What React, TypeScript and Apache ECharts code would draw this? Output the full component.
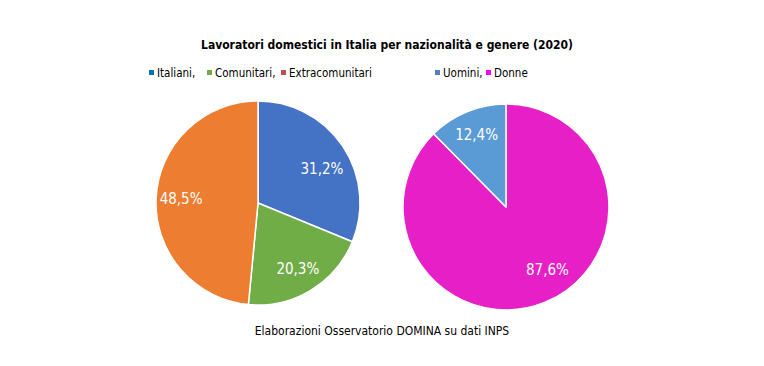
import React, { useEffect, useRef } from "react";
import * as echarts from "echarts";

const titleText = "Lavoratori domestici in Italia per nazionalità e genere (2020)";
const sourceText = "Elaborazioni Osservatorio DOMINA su dati INPS";

const nationalityNames = ["Italiani", "Comunitari", "Extracomunitari"];
const nationalityValues = [31.2, 20.3, 48.5];
const nationalitySliceColors = ["#4472C4", "#70AD47", "#ED7D31"];
const nationalityLegendColors = ["#0070C0", "#70AD47", "#C0504D"];

const genderNames = ["Donne", "Uomini"];
const genderValues = [87.6, 12.4];
const genderSliceColors = ["#E620C6", "#5B9BD5"];
const genderLegendOrder = ["Uomini", "Donne"];
const genderLegendColors = ["#4F81BD", "#FF00FF"];

const FONT = "DejaVu Sans Condensed";

export default function App() {
  const ref = useRef<HTMLDivElement>(null);
  useEffect(() => {
    document.body.style.margin = "0";
    if (!ref.current) return;
    const chart = echarts.init(ref.current, null, { renderer: "svg" });
    const pct = (v: number) => v.toFixed(1).replace(".", ",") + "%";
    // label nudges: "down" / "up" move the text half a line, to mimic the reference placement
    const natShift = ["down", "", ""];
    const genShift = ["up", ""];
    const makeFmt = (shift: string[]) => (p: any) => {
      const t = pct(p.value);
      const s = shift[p.dataIndex];
      if (s === "down") return "\n" + t;
      if (s === "up") return t + "\n";
      return t;
    };
    const natData = nationalityNames.map((n, i) => ({
      name: n,
      value: nationalityValues[i],
      itemStyle: { color: nationalitySliceColors[i] },
    }));
    const genData = genderNames.map((n, i) => ({
      name: n,
      value: genderValues[i],
      itemStyle: { color: genderSliceColors[i] },
    }));
    const labelBase = {
      show: true,
      position: "inside",
      color: "#ffffff",
      fontFamily: FONT,
      fontSize: 15,
      lineHeight: 18,
    };
    const genPad = [[0, 0, 0, 24], [0, 0, 0, 0]];

    const legendItems: any[] = [];
    const natX = [149, 207, 281];
    nationalityNames.forEach((n, i) => {
      const label = i === nationalityNames.length - 1 ? n : n + ",";
      legendItems.push({
        type: "rect",
        shape: { x: natX[i], y: 70, width: 5, height: 5 },
        style: { fill: nationalityLegendColors[i] },
        silent: true,
      });
      legendItems.push({
        type: "text",
        x: natX[i] + 8,
        y: 72.5,
        style: { text: label, fontFamily: FONT, fontSize: 11.5, fill: "#000", verticalAlign: "middle" },
        silent: true,
      });
    });
    const genX = [435, 486];
    genderLegendOrder.forEach((n, i) => {
      const label = i === genderLegendOrder.length - 1 ? n : n + ",";
      legendItems.push({
        type: "rect",
        shape: { x: genX[i], y: 70, width: 5, height: 5 },
        style: { fill: genderLegendColors[i] },
        silent: true,
      });
      legendItems.push({
        type: "text",
        x: genX[i] + 8,
        y: 72.5,
        style: { text: label, fontFamily: FONT, fontSize: 11.5, fill: "#000", verticalAlign: "middle" },
        silent: true,
      });
    });

    chart.setOption({
      animation: false,
      backgroundColor: "#ffffff",
      title: {
        text: titleText,
        left: 382,
        top: 34,
        textAlign: "center",
        textStyle: { fontFamily: FONT, fontSize: 12, fontWeight: "bold", color: "#000" },
      },
      graphic: [
        ...legendItems,
        {
          type: "text",
          left: "center",
          top: 325,
          style: { text: sourceText, fontFamily: FONT, fontSize: 12, fill: "#000" },
        },
      ],
      series: [
        {
          type: "pie",
          center: [258, 203],
          radius: [0, 102],
          startAngle: 90,
          clockwise: true,
          label: { show: false },
          labelLine: { show: false },
          itemStyle: { borderColor: "#fff", borderWidth: 1.5 },
          emphasis: { disabled: true },
          data: natData,
        },
        {
          type: "pie",
          center: [258, 203],
          radius: [46, 102],
          startAngle: 90,
          silent: true,
          label: { ...labelBase, formatter: makeFmt(natShift) },
          labelLine: { show: false },
          itemStyle: { color: "rgba(0,0,0,0)", borderWidth: 0 },
          emphasis: { disabled: true },
          data: nationalityNames.map((n, i) => ({ name: n + " ", value: nationalityValues[i] })),
        },
        {
          type: "pie",
          center: [506, 207],
          radius: [0, 103],
          startAngle: 90,
          clockwise: true,
          label: { show: false },
          labelLine: { show: false },
          itemStyle: { borderColor: "#fff", borderWidth: 1.5 },
          emphasis: { disabled: true },
          data: genData,
        },
        {
          type: "pie",
          center: [506, 207],
          radius: [46, 103],
          startAngle: 90,
          silent: true,
          label: { ...labelBase, formatter: makeFmt(genShift) },
          labelLine: { show: false },
          itemStyle: { color: "rgba(0,0,0,0)", borderWidth: 0 },
          emphasis: { disabled: true },
          data: genderNames.map((n, i) => ({
            name: n + " ",
            value: genderValues[i],
            label: { padding: genPad[i] },
          })),
        },
      ],
    });
    return () => chart.dispose();
  }, []);
  return <div ref={ref} style={{ width: 764, height: 366 }} />;
}
